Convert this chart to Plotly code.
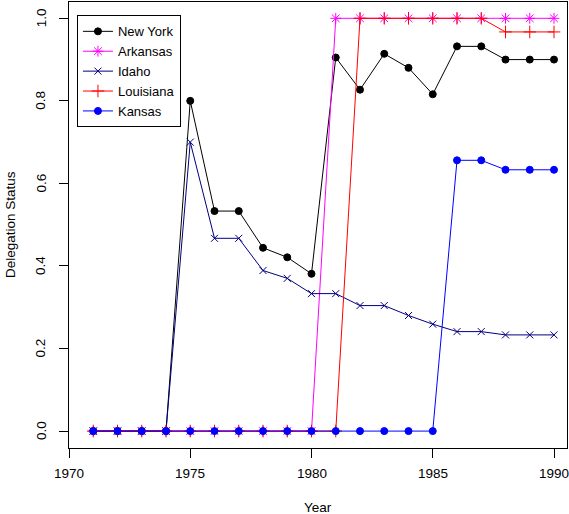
import plotly.graph_objects as go

years = list(range(1971, 1991))

new_york = [0, 0, 0, 0, 0.800, 0.533, 0.533, 0.444, 0.421, 0.381,
            0.905, 0.827, 0.914, 0.880, 0.816, 0.932, 0.932, 0.900, 0.900, 0.900]
arkansas = [0, 0, 0, 0, 0, 0, 0, 0, 0, 0,
            1, 1, 1, 1, 1, 1, 1, 1, 1, 1]
idaho = [0, 0, 0, 0, 0.700, 0.467, 0.467, 0.389, 0.370, 0.333,
         0.333, 0.304, 0.304, 0.280, 0.259, 0.241, 0.241, 0.233, 0.233, 0.233]
louisiana = [0, 0, 0, 0, 0, 0, 0, 0, 0, 0,
             0, 1, 1, 1, 1, 1, 1, 0.967, 0.967, 0.967]
kansas = [0, 0, 0, 0, 0, 0, 0, 0, 0, 0,
          0, 0, 0, 0, 0, 0.656, 0.656, 0.633, 0.633, 0.633]

x_ticks = [1970, 1975, 1980, 1985, 1990]
y_ticks = [0.0, 0.2, 0.4, 0.6, 0.8, 1.0]

FONT = "Liberation Sans, Arial, sans-serif"
TICKFONT = dict(family=FONT, size=13.5, color="black")

series = [
    ("New York", new_york, "black", "circle", 7),
    ("Arkansas", arkansas, "#FF00FF", "asterisk-open", 9),
    ("Idaho", idaho, "#000080", "x-thin-open", 7),
    ("Louisiana", louisiana, "#FF0000", "cross-thin-open", 9),
    ("Kansas", kansas, "#0000FF", "circle", 7),
]

fig = go.Figure()
for name, vals, col, sym, sz in series:
    fig.add_trace(go.Scatter(
        x=years, y=vals, name=name, mode="lines+markers",
        line=dict(color=col, width=1),
        marker=dict(color=col, symbol=sym, size=sz,
                    line=dict(color=col, width=1)),
    ))

annotations = []
# x tick labels placed through the x axis scale
for v in x_ticks:
    annotations.append(dict(text=str(v), xref="x", yref="paper", x=v, y=0,
                            xanchor="center", yanchor="middle", yshift=-25,
                            showarrow=False, font=TICKFONT))
# y tick labels (rotated, as in R) placed through the y axis scale
for v in y_ticks:
    annotations.append(dict(text=f"{v:.1f}", xref="paper", yref="y", x=0, y=v,
                            xanchor="center", yanchor="middle", xshift=-28,
                            textangle=-90, showarrow=False, font=TICKFONT))
annotations += [
    dict(text="Year", xref="paper", yref="paper", x=0.5, y=0,
         xanchor="center", yanchor="middle", yshift=-59,
         showarrow=False, font=TICKFONT),
    dict(text="Delegation Status", xref="paper", yref="paper", x=0, y=0.5,
         xanchor="center", yanchor="middle", xshift=-59, textangle=-90,
         showarrow=False, font=TICKFONT),
]

fig.update_layout(
    width=569, height=514,
    margin=dict(l=69, r=2, t=2, b=66, pad=0),
    paper_bgcolor="white", plot_bgcolor="white",
    font=dict(family=FONT, size=13, color="black"),
    showlegend=True,
    legend=dict(
        x=0.016, y=0.970, xanchor="left", yanchor="top",
        bgcolor="white", bordercolor="black", borderwidth=1,
        font=dict(family=FONT, size=13, color="black"),
        tracegroupgap=0, itemwidth=30,
    ),
    xaxis=dict(
        range=[1970, 1990.536], tickvals=x_ticks,
        showticklabels=False,
        showgrid=False, zeroline=False,
        showline=True, linecolor="black", linewidth=1, mirror=True,
        ticks="outside", ticklen=9, tickcolor="black", tickwidth=1,
    ),
    yaxis=dict(
        range=[-0.041, 1.0395], tickvals=y_ticks,
        showticklabels=False,
        showgrid=False, zeroline=False,
        showline=True, linecolor="black", linewidth=1, mirror=True,
        ticks="outside", ticklen=9, tickcolor="black", tickwidth=1,
    ),
    annotations=annotations,
)

fig.write_html("out.html", config={"displayModeBar": False},
               post_script="document.body.style.margin='0px';document.body.style.padding='0px';")
